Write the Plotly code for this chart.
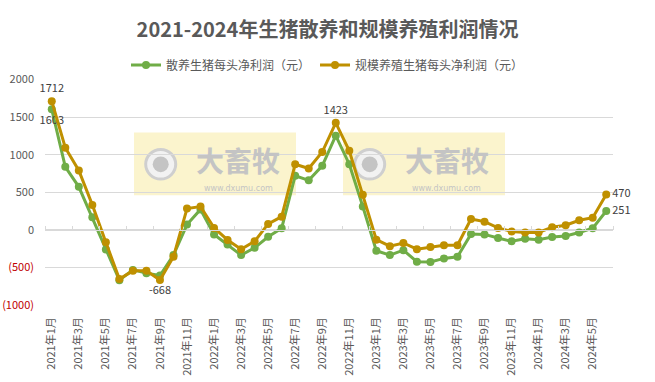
import plotly.graph_objects as go

months = [f"{y}年{m}月" for y in (2021, 2022, 2023) for m in range(1, 13)] + [f"2024年{m}月" for m in range(1, 7)]

green_name = "散养生猪每头净利润（元）"
gold_name = "规模养殖生猪每头净利润（元）"

green = [1603, 838, 572, 166, -262, -670, -533, -576, -607, -336, 70, 271,
         -61, -196, -336, -240, -92, 22, 720, 659, 852, 1253, 873, 310,
         -279, -336, -271, -424, -428, -380, -358, -57, -61, -109, -153, -118,
         -131, -96, -83, -35, 22, 251]
gold = [1712, 1092, 790, 332, -166, -655, -546, -546, -668, -358, 284, 310,
        26, -135, -258, -153, 79, 175, 873, 817, 1035, 1423, 1052, 467,
        -131, -218, -175, -258, -227, -205, -205, 144, 109, 26, -22, -35,
        -35, 35, 61, 127, 162, 470]

ytick_vals = [2000, 1500, 1000, 500, 0, -500, -1000]
ytick_text = ["2000", "1500", "1000", "500", "0",
              "<span style='color:#C00000'>(500)</span>",
              "<span style='color:#C00000'>(1000)</span>"]

idx = list(range(len(months)))

green_text = [""] * len(months)
green_pos = ["top center"] * len(months)
green_text[0] = "1603"; green_pos[0] = "bottom center"
green_text[-1] = "251"; green_pos[-1] = "middle right"

gold_text = [""] * len(months)
gold_pos = ["top center"] * len(months)
gold_text[0] = "1712"; gold_pos[0] = "top center"
gold_text[8] = "-668"; gold_pos[8] = "bottom center"
gold_text[21] = "1423"; gold_pos[21] = "top center"
gold_text[-1] = "470"; gold_pos[-1] = "middle right"

GREEN = "#70AD47"
GOLD = "#BF9000"
FONT = "Noto Sans CJK SC"

fig = go.Figure()
fig.add_trace(go.Scatter(x=idx, y=green, name=green_name, mode="lines+markers+text",
                         line=dict(color=GREEN, width=3), marker=dict(color=GREEN, size=8),
                         text=green_text, textposition=green_pos,
                         textfont=dict(size=11, color="#404040", family=FONT),
                         cliponaxis=False))
fig.add_trace(go.Scatter(x=idx, y=gold, name=gold_name, mode="lines+markers+text",
                         line=dict(color=GOLD, width=3), marker=dict(color=GOLD, size=8),
                         text=gold_text, textposition=gold_pos,
                         textfont=dict(size=11, color="#404040", family=FONT),
                         cliponaxis=False))
# invisible trace to attach the zero-line axis with category tick marks
fig.add_trace(go.Scatter(x=[idx[0]], y=[0], xaxis="x2", mode="markers",
                         marker=dict(opacity=0), showlegend=False, hoverinfo="skip"))

n = len(months)
fig.update_layout(
    width=655, height=382,
    margin=dict(l=45, r=42, t=75, b=77),
    paper_bgcolor="white", plot_bgcolor="white",
    font=dict(family=FONT, color="#595959", size=11),
    title=dict(text="<b>2021-2024年生猪散养和规模养殖利润情况</b>",
               x=0.5, xref="container", xanchor="center",
               y=1 - 30 / 382, yref="container", yanchor="middle",
               font=dict(size=20, color="#595959", family=FONT),
               automargin=False),
    showlegend=True,
    legend=dict(orientation="h", x=0.5, xref="container", xanchor="center",
                y=1 - 65 / 382, yref="container", yanchor="middle",
                font=dict(size=12, color="#595959", family=FONT),
                itemwidth=30, bgcolor="rgba(0,0,0,0)"),
    xaxis=dict(range=[-0.5, n - 0.5], tickmode="array", automargin=False,
               tickvals=idx[::2], ticktext=months[::2], tickangle=-90,
               showgrid=False, zeroline=False, showline=False, ticks="",
               ticklabelstandoff=9,
               tickfont=dict(size=11, color="#595959", family=FONT)),
    xaxis2=dict(overlaying="x", anchor="free", position=1 / 3, side="top",
                range=[-0.5, n - 0.5], tickmode="array", automargin=False,
                tickvals=[i - 0.5 for i in idx[::2]] + [n - 0.5],
                showticklabels=False, ticks="outside", ticklen=4, tickcolor="#D9D9D9",
                showline=True, linecolor="#D9D9D9", linewidth=1,
                showgrid=False, zeroline=False),
    yaxis=dict(range=[-1000, 2000], tickmode="array", tickvals=ytick_vals,
               ticktext=ytick_text, showgrid=True, gridcolor="#D9D9D9", gridwidth=1,
               zeroline=False, showline=False, ticks="", ticklabelstandoff=10,
               automargin=False,
               tickfont=dict(size=11, color="#595959", family=FONT)),
)

# watermarks
W, H, L, B = 568.0, 230.0, 45.0, 305.0
def px(xp):
    return (xp - L) / W
def py(yp):
    return (B - yp) / H

shapes = []
annos = []
for off in (0, 209):
    shapes.append(dict(type="rect", xref="paper", yref="paper",
                       x0=px(134 + off), x1=px(296 + off), y0=py(193), y1=py(129),
                       fillcolor="rgba(250,242,196,0.85)", line=dict(width=0), layer="between"))
    cx, cy, r = 160.7 + off, 161.5, 15
    shapes.append(dict(type="circle", xref="paper", yref="paper",
                       x0=px(cx - r), x1=px(cx + r), y0=py(cy + r), y1=py(cy - r),
                       fillcolor="#F2F2F2", line=dict(color="#CFCFCF", width=3), layer="between"))
    r2 = 8
    shapes.append(dict(type="circle", xref="paper", yref="paper",
                       x0=px(cx - r2), x1=px(cx + r2), y0=py(cy + r2), y1=py(cy - r2),
                       fillcolor="#C4C4C4", line=dict(width=0), layer="between"))
    annos.append(dict(xref="paper", yref="paper", x=px(238 + off), y=py(157),
                      text="<b>大畜牧</b>", showarrow=False,
                      font=dict(size=28, color="#C4C4C4", family=FONT),
                      xanchor="center", yanchor="middle"))
    annos.append(dict(xref="paper", yref="paper", x=px(238 + off), y=py(186.5),
                      text="www.dxumu.com", showarrow=False,
                      font=dict(size=8, color="#C4C4C4", family="DejaVu Sans"),
                      xanchor="center", yanchor="middle"))

fig.update_layout(shapes=shapes, annotations=annos)
fig.write_html("out.html")
